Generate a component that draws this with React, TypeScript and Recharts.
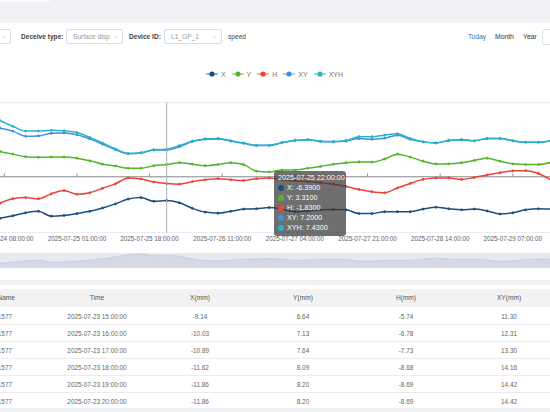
import React from 'react';
import {
  LineChart, Line, XAxis, YAxis, CartesianGrid, Tooltip, Legend, ReferenceLine,
  AreaChart, Area,
} from 'recharts';

// ---------- data ----------
const hours = [7, 10, 13, 16, 19, 22, 25, 28, 31, 34, 37, 40, 43, 46, 49, 52, 55, 58, 61, 64, 67, 70,
  73, 76, 79, 82, 85, 88, 91, 94, 97, 100, 103, 106, 109, 112, 115, 118, 121, 124, 127, 130, 133, 136];

const xVals = [-11.2, -10.5, -9.7, -9.3, -10.6, -10.4, -9.9, -9.3, -8.4, -7.3, -6.0, -5.6, -6.6, -6.39,
  -7.0, -8.5, -9.5, -9.8, -9.3, -8.7, -8.6, -8.3, -8.7, -9.4, -9.2, -8.9, -8.8, -8.9, -9.9, -9.9, -9.4,
  -9.4, -9.4, -8.7, -8.2, -8.6, -8.9, -8.7, -9.2, -10.0, -9.7, -8.9, -8.6, -8.7];

const yVals = [6.8, 6.1, 5.4, 5.25, 5.3, 5.3, 5.0, 4.3, 3.4, 2.9, 2.3, 2.3, 3.0, 3.31, 3.8, 3.4, 3.0,
  3.3, 3.8, 3.3, 1.5, 1.3, 1.8, 1.8, 2.3, 2.8, 3.4, 3.8, 4.0, 3.95, 4.8, 6.1, 5.3, 4.2, 3.45, 3.5, 3.8,
  4.4, 5.0, 4.2, 3.5, 3.3, 3.3, 3.9];

const hVals = [-7.1, -5.9, -5.6, -5.9, -4.6, -3.7, -4.7, -4.3, -3.1, -1.9, -0.3, -0.6, -1.4, -1.83, -2.0,
  -1.3, -0.8, -0.5, -0.8, -1.0, -0.5, -0.3, -0.8, -1.1, -1.3, -1.6, -2.0, -2.6, -3.4, -4.0, -4.3, -3.0,
  -1.8, -0.7, -0.3, -0.3, -0.7, -0.2, 0.5, 1.1, 1.6, 1.65, 0.9, -0.9];

const xyVals = [13.1, 12.3, 10.9, 11.0, 11.7, 11.8, 11.3, 10.2, 8.8, 7.3, 6.2, 6.4, 7.2, 7.2, 8.1, 9.5,
  10.1, 10.2, 9.6, 9.0, 8.4, 8.4, 9.2, 9.8, 10.0, 9.5, 9.4, 9.6, 10.3, 10.1, 10.4, 11.2, 10.1, 9.4, 9.1,
  9.8, 10.0, 9.7, 10.3, 10.3, 9.7, 9.3, 9.3, 9.7];

const xyhVals = [15.1, 13.6, 12.3, 12.3, 12.5, 12.4, 11.9, 10.6, 9.1, 7.5, 6.3, 6.5, 7.3, 7.43, 8.4, 9.6,
  10.2, 10.3, 9.7, 9.1, 8.5, 8.5, 9.2, 9.8, 10.0, 9.6, 9.5, 9.8, 10.8, 10.8, 11.2, 11.6, 10.3, 9.4, 9.1,
  9.8, 10.0, 9.7, 10.3, 10.3, 9.7, 9.3, 9.3, 9.7];

const tickHours = [8, 25, 42, 59, 76, 93, 110, 127];
const tickLabels = ['2025-07-24 08:00:00', '2025-07-25 01:00:00', '2025-07-25 18:00:00', '2025-07-26 11:00:00',
  '2025-07-27 04:00:00', '2025-07-27 21:00:00', '2025-07-28 14:00:00', '2025-07-29 07:00:00'];
const yTicks = [-15, -10, -5, 0, 5, 10, 15, 20];

const seriesNames = ['X', 'Y', 'H', 'XY', 'XYH'];
const seriesColors = ['#1a4f80', '#52b52a', '#e8453a', '#3f8fe3', '#27b4c6'];
const seriesValues = [xVals, yVals, hVals, xyVals, xyhVals];

const tableNames = ['GP-1577', 'GP-1577', 'GP-1577', 'GP-1577', 'GP-1577', 'GP-1577'];
const tableTimes = ['2025-07-23 15:00:00', '2025-07-23 16:00:00', '2025-07-23 17:00:00',
  '2025-07-23 18:00:00', '2025-07-23 19:00:00', '2025-07-23 20:00:00'];
const tableX = ['-9.14', '-10.03', '-10.89', '-11.62', '-11.86', '-11.86'];
const tableY = ['6.64', '7.13', '7.64', '8.09', '8.20', '8.20'];
const tableH = ['-5.74', '-6.78', '-7.73', '-8.68', '-8.69', '-8.69'];
const tableXY = ['11.30', '12.31', '13.30', '14.16', '14.42', '14.42'];
const tableHeaders = ['Name', 'Time', 'X(mm)', 'Y(mm)', 'H(mm)', 'XY(mm)'];

// ---------- helpers ----------
const data = hours.map((h, i) => {
  const row: any = { h };
  seriesNames.forEach((n, k) => { row[n] = seriesValues[k][i]; });
  return row;
});

const pad = (n: number) => (n < 10 ? '0' + n : '' + n);
const fmtTime = (h: number) => {
  const day = 24 + Math.floor(h / 24);
  const hr = h % 24;
  return `2025-07-${pad(day)} ${pad(hr)}:00:00`;
};

const FONT = '"Liberation Sans", Arial, sans-serif';

const TipBox = (props: any) => {
  const { active, payload, label } = props;
  if (!active || !payload || !payload.length) return null;
  return (
    <div style={{
      background: 'rgba(55,55,55,0.72)', borderRadius: 3, padding: '2px 3px 3px 4px', width: 72,
      boxSizing: 'border-box', color: '#fff', fontFamily: FONT, fontSize: 7.2, lineHeight: '10px',
    }}>
      <div style={{ whiteSpace: 'nowrap' }}>{fmtTime(label)}</div>
      {payload.map((p: any) => (
        <div key={p.dataKey} style={{ whiteSpace: 'nowrap', display: 'flex', alignItems: 'center' }}>
          <span style={{ display: 'inline-block', width: 6, height: 6, borderRadius: 3, background: p.color, marginRight: 3 }} />
          {p.name}: {Number(p.value).toFixed(4)}
        </div>
      ))}
    </div>
  );
};

const LegendBox = () => (
  <div style={{ display: 'flex', justifyContent: 'center', alignItems: 'center', fontFamily: FONT, fontSize: 7, color: '#777', paddingLeft: 5 }}>
    {seriesNames.map((n, i) => (
      <div key={n} style={{ display: 'flex', alignItems: 'center', marginRight: 6 }}>
        <svg width={12} height={8} style={{ marginRight: 3 }}>
          <line x1={0} y1={4} x2={12} y2={4} stroke={seriesColors[i]} strokeOpacity={0.55} strokeWidth={1.5} />
          <circle cx={6} cy={4} r={2.6} fill={seriesColors[i]} />
        </svg>
        <span>{n}</span>
      </div>
    ))}
  </div>
);

const Select = ({ left, width, text }: { left: number; width: number; text: string }) => (
  <div style={{
    position: 'absolute', left, top: 29, width, height: 15, border: '1px solid #dcdfe6', borderRadius: 2,
    boxSizing: 'border-box', background: '#fff',
  }}>
    <span style={{ position: 'absolute', left: 6, top: 3, fontSize: 6.6, color: '#9a9a9a', whiteSpace: 'nowrap' }}>{text}</span>
    <span style={{ position: 'absolute', right: 4, top: 2, fontSize: 6, color: '#bbb' }}>⌄</span>
  </div>
);

const colCenters = [97, 200, 303, 406, 509];

export default function App() {
  return (
    <div style={{ position: 'fixed', left: 0, top: 0, width: 550, height: 412, overflow: 'hidden', background: '#f0f2f5', fontFamily: FONT }}>
      <div style={{ position: 'absolute', left: 0, top: 0, width: 50, height: 2, background: '#fafafa' }} />
      {/* top card */}
      <div style={{ position: 'absolute', left: 0, top: 23, width: 550, height: 257, background: '#fff' }} />
      {/* filter bar */}
      <Select left={-30} width={41} text="" />
      <span style={{ position: 'absolute', left: 21, top: 33, fontSize: 6.6, fontWeight: 'bold', color: '#444' }}>Deceive type:</span>
      <Select left={66} width={57} text="Surface disp" />
      <span style={{ position: 'absolute', left: 129, top: 33, fontSize: 6.6, fontWeight: 'bold', color: '#444' }}>Device ID:</span>
      <Select left={164} width={58} text="L1_GP_1" />
      <span style={{ position: 'absolute', left: 228, top: 33, fontSize: 6.6, color: '#444' }}>speed</span>
      <span style={{ position: 'absolute', left: 468, top: 33, fontSize: 6.8, color: '#4b6ea8' }}>Today</span>
      <span style={{ position: 'absolute', left: 495, top: 33, fontSize: 6.8, color: '#333' }}>Month</span>
      <span style={{ position: 'absolute', left: 523, top: 33, fontSize: 6.8, color: '#333' }}>Year</span>
      <div style={{ position: 'absolute', left: 542, top: 29, width: 30, height: 16, border: '1px solid #dcdfe6', borderRadius: 2, boxSizing: 'border-box' }} />

      {/* main chart */}
      <div style={{ position: 'absolute', left: 0, top: 60 }}>
        <LineChart width={550} height={188} data={data} margin={{ top: 42.5, right: 0, bottom: 0, left: 0 }}>
          <CartesianGrid horizontal vertical={false} stroke="#e3e7ef" strokeWidth={0.8} />
          <XAxis
            dataKey="h" type="number" domain={[7, 135.7]} allowDataOverflow ticks={tickHours}
            tickFormatter={(v: number) => tickLabels[tickHours.indexOf(v)] ?? ''}
            interval={0} axisLine={false} tickLine={false} tickSize={0} tickMargin={4} height={15.5}
            tick={{ fontSize: 6.3, fill: '#5f6169', fontFamily: FONT }}
          />
          <YAxis width={0} domain={[-15, 20]} ticks={yTicks} tick={false} axisLine={false} tickLine={false} allowDataOverflow />
          <ReferenceLine y={0} stroke="#85878f" strokeWidth={1} ifOverflow="hidden" />
          {tickHours.map((t) => (
            <ReferenceLine key={t} segment={[{ x: t, y: 0 }, { x: t, y: 0.9 }]} stroke="#85878f" strokeWidth={0.9} />
          ))}
          {seriesNames.map((n, i) => (
            <Line
              key={n} dataKey={n} name={n} type="monotone" stroke={seriesColors[i]} strokeWidth={1.5}
              dot={{ r: 1.1, strokeWidth: 0.6, fill: seriesColors[i], stroke: seriesColors[i] }}
              activeDot={false} isAnimationActive={false}
            />
          ))}
          <Legend
            verticalAlign="middle" align="center" layout="horizontal"
            wrapperStyle={{ top: 10, left: 0, width: 550, height: 10 }}
            content={() => <LegendBox />}
          />
          <Tooltip
            active defaultIndex={13} isAnimationActive={false}
            position={{ x: 274, y: 111 }}
            cursor={{ stroke: '#b0b0b0', strokeWidth: 1 }}
            content={(p: any) => <TipBox {...p} />}
            wrapperStyle={{ outline: 'none' }}
          />
        </LineChart>
      </div>

      {/* data zoom band */}
      <div style={{ position: 'absolute', left: 0, top: 253, width: 550, height: 15, background: '#e5eaf1' }} />
      <div style={{ position: 'absolute', left: 0, top: 253 }}>
        <AreaChart width={550} height={15} data={data} margin={{ top: 0, right: 0, bottom: 0, left: 0 }}>
          <XAxis dataKey="h" type="number" domain={[7, 135.7]} allowDataOverflow hide />
          <YAxis domain={[-14, -5]} hide allowDataOverflow />
          <Area dataKey="X" type="monotone" stroke="#c3ccd8" strokeWidth={0.8} fill="#d3dae4" fillOpacity={1}
            baseValue={-14} isAnimationActive={false} dot={false} activeDot={false} />
        </AreaChart>
      </div>

      {/* table card */}
      <div style={{ position: 'absolute', left: 0, top: 285, width: 550, height: 123, background: '#fff' }} />
      <div style={{ position: 'absolute', left: 0, top: 289, width: 550, height: 18, background: '#f2f2f2' }} />
      <span style={{ position: 'absolute', right: 535, top: 294, fontSize: 6.6, color: '#555', whiteSpace: 'nowrap' }}>Name</span>
      {tableHeaders.slice(1).map((t, i) => (
        <span key={t} style={{ position: 'absolute', left: colCenters[i] - 40, width: 80, textAlign: 'center', top: 294, fontSize: 6.6, color: '#555' }}>{t}</span>
      ))}
      {tableTimes.map((tm, r) => {
        const top = 308 + r * 16.9;
        const cells = [tm, tableX[r], tableY[r], tableH[r], tableXY[r]];
        return (
          <div key={r}>
            <div style={{ position: 'absolute', left: 0, top: top + 16.4, width: 550, height: 0.6, background: '#ececec' }} />
            <span style={{ position: 'absolute', right: 538, top: top + 5, fontSize: 6.4, color: '#666', whiteSpace: 'nowrap' }}>{tableNames[r]}</span>
            {cells.map((c, i) => (
              <span key={i} style={{ position: 'absolute', left: colCenters[i] - 45, width: 90, textAlign: 'center', top: top + 5, fontSize: 6.4, color: '#666' }}>{c}</span>
            ))}
          </div>
        );
      })}
    </div>
  );
}
